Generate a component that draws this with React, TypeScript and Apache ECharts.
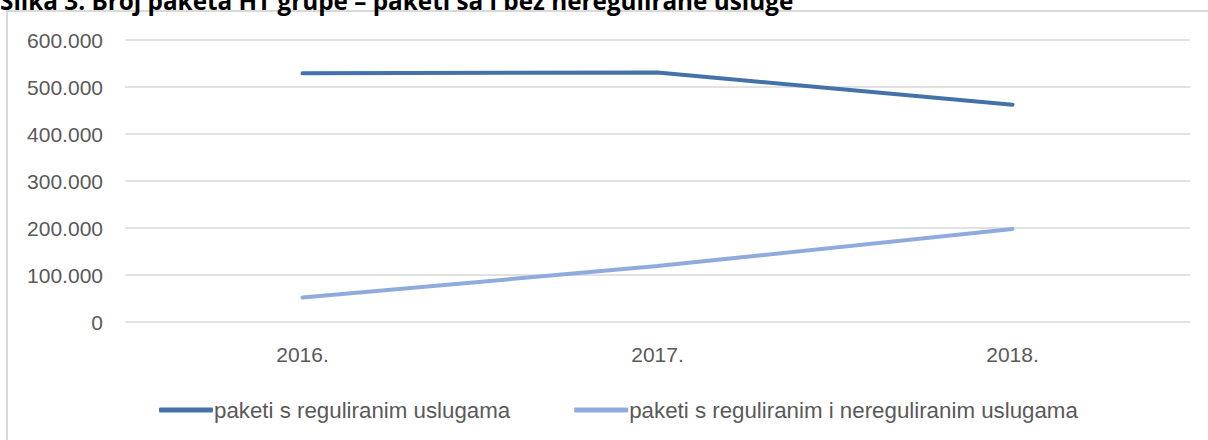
import React, { useEffect, useRef } from "react";
import * as echarts from "echarts";

const categories = ["2016.", "2017.", "2018."];
const seriesNames = ["paketi s reguliranim uslugama", "paketi s reguliranim i nereguliranim uslugama"];
const regulirane = [529000, 531000, 462000];
const sNereguliranim = [52000, 119000, 198000];
const yTicks = { min: 0, max: 600000, interval: 100000 };
const titleText = "Slika 3: Broj paketa HT grupe – paketi sa i bez neregulirane usluge";

const FONT = '"Liberation Sans", sans-serif';

function fmt(v: number): string {
  if (v === 0) return "0";
  const s = String(Math.round(v));
  return s.replace(/\B(?=(\d{3})+(?!\d))/g, ".");
}

export default function App() {
  const ref = useRef<HTMLDivElement>(null);
  useEffect(() => {
    if (!ref.current) return;
    const chart = echarts.init(ref.current, null, { renderer: "svg" });
    chart.setOption({
      animation: false,
      backgroundColor: "#ffffff",
      graphic: [
        {
          type: "rect",
          shape: { x: 7, y: 11, width: 1400, height: 600 },
          style: { fill: "none", stroke: "#d9d9d9", lineWidth: 2 },
          z: 0,
        },
        {
          type: "text",
          x: 0,
          y: 12,
          style: {
            text: titleText,
            font: 'bold 24.3px "Open Sans", sans-serif',
            fill: "#000000",
            verticalAlign: "bottom",
          },
        },
      ],
      grid: { left: 125, right: 18, top: 40, bottom: 118, containLabel: false },
      xAxis: {
        type: "category",
        data: categories,
        boundaryGap: true,
        axisLine: { show: false },
        axisTick: { show: false },
        axisLabel: { color: "#595959", fontFamily: FONT, fontSize: 21, margin: 22 },
      },
      yAxis: {
        type: "value",
        min: yTicks.min,
        max: yTicks.max,
        interval: yTicks.interval,
        axisLine: { show: false },
        axisTick: { show: false },
        splitLine: { lineStyle: { color: "#d9d9d9", width: 1.5 } },
        axisLabel: {
          color: "#595959",
          fontFamily: FONT,
          fontSize: 21,
          margin: 22,
          formatter: (v: number) => fmt(v),
        },
      },
      legend: {
        left: 154,
        top: 394,
        itemWidth: 54,
        itemHeight: 5,
        itemGap: 64,
        icon: "roundRect",
        textStyle: { color: "#595959", fontFamily: FONT, fontSize: 22.3, padding: [0, 0, 0, -4] },
        data: seriesNames,
      },
      series: [
        {
          name: seriesNames[0],
          type: "line",
          data: regulirane,
          symbol: "none",
          lineStyle: { color: "#4472a8", width: 4, cap: "round" },
          itemStyle: { color: "#4472a8" },
        },
        {
          name: seriesNames[1],
          type: "line",
          data: sNereguliranim,
          symbol: "none",
          lineStyle: { color: "#8faadc", width: 4, cap: "round" },
          itemStyle: { color: "#8faadc" },
        },
      ],
    });
    return () => chart.dispose();
  }, []);
  return (
    <div
      ref={ref}
      style={{ position: "absolute", left: 0, top: 0, width: 1208, height: 440 }}
    />
  );
}
